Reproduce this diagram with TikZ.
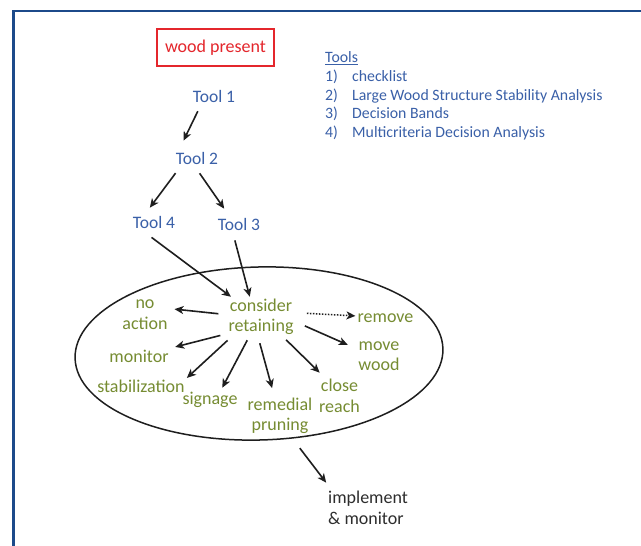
\documentclass[tikz,border=0pt]{standalone}
\usepackage{fontspec}
\setmainfont{Carlito}
\usetikzlibrary{shapes.geometric,arrows.meta}
\definecolor{frameblue}{RGB}{28,74,138}
\definecolor{toolblue}{RGB}{58,96,168}
\definecolor{olivetext}{RGB}{118,140,50}
\definecolor{boxred}{RGB}{228,38,44}
\definecolor{ink}{RGB}{45,45,45}
\definecolor{linecol}{RGB}{30,30,30}
\begin{document}
\begin{tikzpicture}[x=1pt,y=-1pt,
  every node/.style={inner sep=2pt},
  big/.style={font=\fontsize{18}{20.5}\selectfont, align=center},
  tool/.style={font=\fontsize{17.5}{20}\selectfont, text=toolblue},
  opt/.style={big, text=olivetext},
  legend/.style={font=\fontsize{15.8}{18}\selectfont, text=toolblue, anchor=base west},
  arr/.style={-{Stealth[length=9pt,width=8pt,inset=2.5pt]}, line width=1.6pt, draw=linecol},
  dotarr/.style={arr, dash pattern=on 1.6pt off 1.4pt, line width=1.5pt},
  redframe/.style={draw=boxred, line width=1.9pt},
]
\useasboundingbox (0,0) rectangle (641,546);
\fill[white] (0,0) rectangle (641,546);
\draw[frameblue, line width=2.5pt, line join=miter] (645,11) -- (13.5,11) -- (13.5,550);

% top
\node[big, text=boxred, minimum width=116pt, minimum height=36pt] (wood) at (215.5,47.5) {wood present};
\draw[redframe] (wood.south west) rectangle (wood.north east);

% legend
\node[legend] (legT) at (323,63) {\underline{Tools}};
\node[legend] (leg1n) at (323,81.5) {1)};
\node[legend] (leg1) at (350,81.5) {checklist};
\node[legend] (leg2n) at (323,100) {2)};
\node[legend] (leg2) at (350,100) {Large Wood Structure Stability Analysis};
\node[legend] (leg3n) at (323,118.5) {3)};
\node[legend] (leg3) at (350,118.5) {Decision Bands};
\node[legend] (leg4n) at (323,137) {4)};
\node[legend] (leg4) at (350,137) {Multicriteria Decision Analysis};

% tools
\node[tool] (t1) at (214,96) {Tool 1};
\node[tool] (t2) at (197,158) {Tool 2};
\node[tool] (t4) at (154,222) {Tool 4};
\node[tool] (t3) at (239,224) {Tool 3};

% ellipse and options
\node[draw=linecol, ellipse, line width=1.5pt, minimum width=368pt, minimum height=173pt, inner sep=0pt, rotate=1.5] (ell) at (259,353.5) {};
\node[opt] (cons) at (261,317) {consider\\retaining};
\node[opt] (noact) at (145,314.8) {no\\action};
\node[opt] (monitor) at (139,356) {monitor};
\node[opt] (stab) at (141,386) {stabilization};
\node[opt] (signage) at (210,400) {signage};
\node[opt] (remedial) at (280,416) {remedial\\pruning};
\node[opt] (close) at (339.5,396) {close\\reach};
\node[opt] (move) at (379,356) {move\\wood};
\node[opt] (remove) at (385.5,318) {remove};

% implement
\node[big, align=left, text=ink, anchor=west] (impl) at (326,508) {implement\\\& monitor};

% connectors
\draw[arr, shorten <=7.7pt, shorten >=10pt] (t1.213) -- (t2.155);
\draw[arr, shorten <=8.5pt, shorten >=7.5pt] (t2.207) -- (t4.136);
\draw[arr, shorten <=8.5pt, shorten >=8.5pt] (t2.255) -- (t3.140);
\draw[arr, shorten <=11.8pt] (t4.215) -- (cons.146);
\draw[arr, shorten <=8.3pt] (t3.233) -- (cons.119);

\draw[arr, shorten <=8pt, shorten >=4.7pt] (cons.176) -- (noact.14.5);
\draw[arr, shorten <=6.2pt, shorten >=4.6pt] (cons.206.6) -- (monitor.14);
\draw[arr, shorten <=4.6pt] (cons.214.5) -- (stab.10.7);
\draw[arr, shorten <=3.4pt, shorten >=2.6pt] (cons.239.4) -- (signage.42);
\draw[arr, shorten <=6.2pt, shorten >=7.9pt] (cons.262.9) -- (remedial.106.4);
\draw[arr, shorten <=3.7pt, shorten >=6.5pt] (cons.318.9) -- (close.129);
\draw[arr, shorten <=10pt, shorten >=9.2pt] (cons.352) -- (move.162.1);
\draw[dotarr, shorten <=11.2pt] (cons.7.7) -- (remove.176.4);

\draw[arr, shorten <=12pt, shorten >=8.3pt] (ell.290) -- (impl.153);
\end{tikzpicture}
\end{document}
